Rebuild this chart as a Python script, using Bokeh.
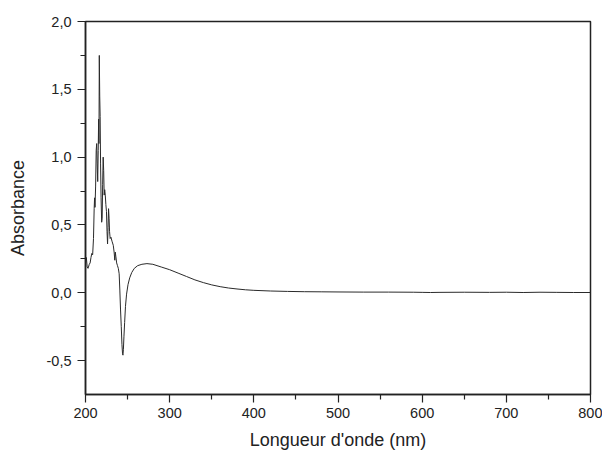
from bokeh.plotting import figure
from bokeh.models import Range1d, FixedTicker, CustomJSTickFormatter, ColumnDataSource
from bokeh.embed import file_html
from bokeh.resources import INLINE

# Spectrum (nm, absorbance)
wavelength = [200.0, 201.0, 202.0, 203.0, 204.5, 205.5, 206.5, 207.5, 208.5, 209.5,
              210.3, 210.8, 211.3, 212.0, 212.7, 213.3, 213.9, 214.5, 215.1, 215.6,
              216.0, 216.4, 216.9, 217.4, 217.9, 218.5, 219.2, 219.8, 220.4, 221.0,
              221.6, 222.2, 222.8, 223.5, 224.2, 224.9, 225.6, 226.2, 226.8, 227.4,
              228.0, 228.6, 229.3, 230.2, 231.5, 233.0, 234.0, 234.8, 235.4, 236.0,
              237.0, 238.0, 239.0, 240.0, 240.8, 241.6, 242.5, 243.3, 244.0, 244.5,
              245.0, 245.7, 246.5, 247.5, 248.8, 250.5, 252.5, 255.0, 258.0, 262.0,
              267.0, 273.0, 280.0, 290.0, 300.0, 310.0, 320.0, 330.0, 340.0, 350.0,
              360.0, 370.0, 380.0, 390.0, 400.0, 420.0, 440.0, 460.0, 480.0, 500.0,
              530.0, 560.0, 590.0, 600.0, 610.0, 620.0, 650.0, 680.0, 700.0, 720.0,
              740.0, 760.0, 780.0, 800.0]
absorbance = [0.22, 0.26, 0.19, 0.18, 0.21, 0.22, 0.26, 0.29, 0.28, 0.40,
              0.62, 0.70, 0.63, 0.78, 1.05, 1.10, 0.95, 0.82, 1.05, 1.28,
              1.10, 1.75, 1.45, 1.30, 0.95, 0.70, 0.52, 0.55, 0.80, 1.00,
              0.90, 0.72, 0.76, 0.72, 0.65, 0.60, 0.45, 0.36, 0.48, 0.62,
              0.55, 0.45, 0.40, 0.41, 0.38, 0.35, 0.30, 0.24, 0.30, 0.27,
              0.22, 0.20, 0.18, 0.14, 0.02, -0.12, -0.25, -0.38, -0.45, -0.46,
              -0.42, -0.32, -0.22, -0.10, -0.01, 0.06, 0.11, 0.15, 0.18, 0.20,
              0.21, 0.215, 0.21, 0.19, 0.17, 0.145, 0.12, 0.095, 0.075, 0.058,
              0.045, 0.035, 0.028, 0.022, 0.018, 0.013, 0.010, 0.008, 0.007, 0.006,
              0.005, 0.005, 0.004, 0.003, 0.002, 0.003, 0.004, 0.003, 0.004, 0.002,
              0.004, 0.003, 0.002, 0.002]

x_major = [200, 300, 400, 500, 600, 700, 800]
x_minor = [250, 350, 450, 550, 650, 750]
y_major = [-0.5, 0.0, 0.5, 1.0, 1.5, 2.0]
y_minor = [-0.25, 0.25, 0.75, 1.25, 1.75]

FONT = "Liberation Sans"

p = figure(width=602, height=452, output_backend="svg", toolbar_location=None,
           x_range=Range1d(200, 800), y_range=Range1d(-0.75, 2.0),
           min_border_left=85, min_border_right=12, min_border_top=21,
           min_border_bottom=58)

src = ColumnDataSource(dict(x=wavelength, y=absorbance))
p.line("x", "y", source=src, line_color="#2a2a2a", line_width=1)

p.xgrid.visible = False
p.ygrid.visible = False
p.outline_line_color = "#222222"
p.outline_line_width = 1.5
p.background_fill_color = "white"
p.border_fill_color = "white"

p.xaxis.ticker = FixedTicker(ticks=x_major, minor_ticks=x_minor)
p.yaxis.ticker = FixedTicker(ticks=y_major, minor_ticks=y_minor)
p.yaxis.formatter = CustomJSTickFormatter(code="return tick.toFixed(1).replace('.', ',');")

for ax in (p.xaxis[0], p.yaxis[0]):
    ax.axis_line_color = "#222222"
    ax.axis_line_width = 1.5
    ax.major_tick_line_color = "#222222"
    ax.minor_tick_line_color = "#222222"
    ax.major_tick_line_width = 1.2
    ax.minor_tick_line_width = 1.2
    ax.major_tick_in = 0
    ax.major_tick_out = 8
    ax.minor_tick_in = 0
    ax.minor_tick_out = 5
    ax.major_label_text_font = FONT
    ax.major_label_text_font_size = "14.5px"
    ax.major_label_text_color = "#222222"
    ax.axis_label_text_font = FONT
    ax.axis_label_text_font_size = "18px"
    ax.axis_label_text_font_style = "normal"
    ax.axis_label_text_color = "#222222"

p.xaxis.axis_label = "Longueur d'onde (nm)"
p.yaxis.axis_label = "Absorbance"
p.xaxis.major_label_standoff = 5
p.xaxis.axis_label_standoff = 9
p.yaxis.major_label_standoff = 6
p.yaxis.axis_label_standoff = 16

open("out.html", "w").write(file_html(p, INLINE))
